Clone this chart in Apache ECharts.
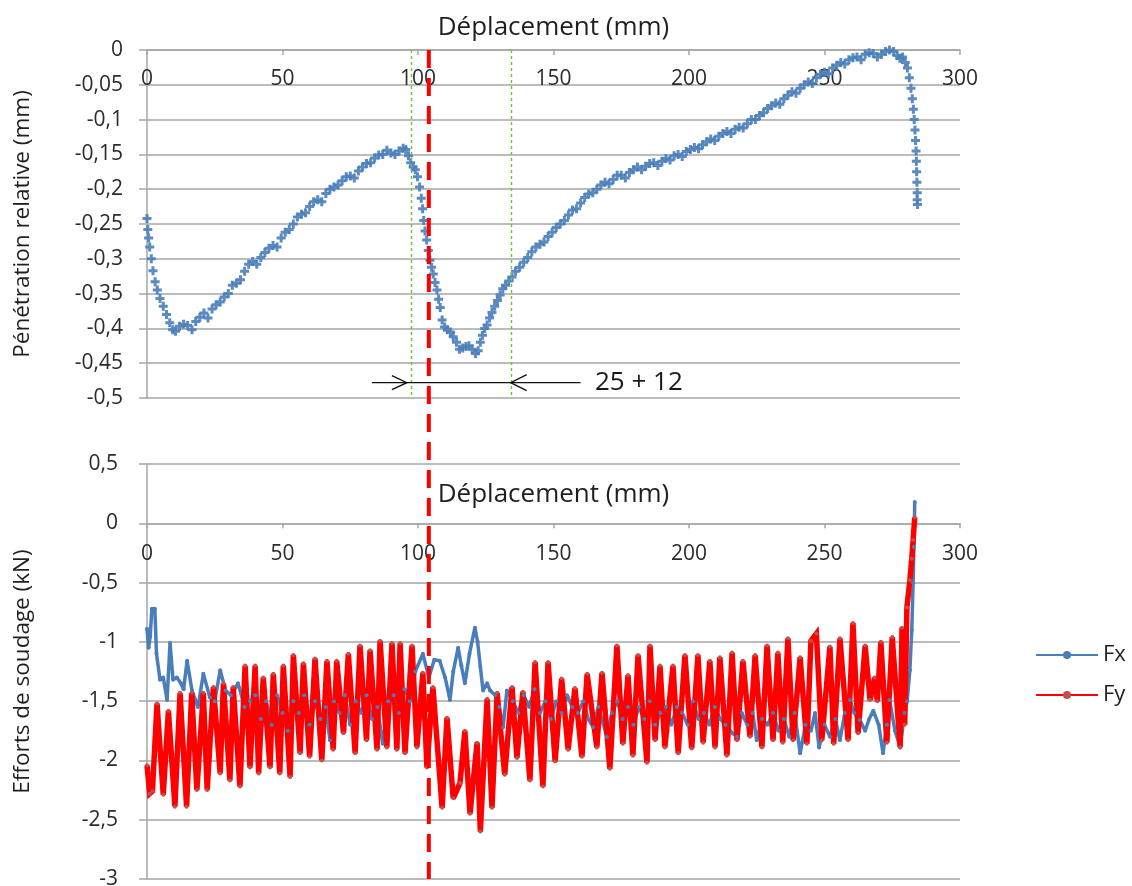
<!DOCTYPE html>
<html>
<head>
<meta charset="utf-8">
<title>Pénétration relative et efforts de soudage</title>
<script src="https://cdn.jsdelivr.net/npm/echarts@6/dist/echarts.min.js"></script>
<style>
  html, body { margin: 0; padding: 0; background: #fff; }
  #main { width: 1132px; height: 886px; }
</style>
</head>
<body>
<div id="main"></div>
<script>
// Relative penetration (mm) against tool displacement (mm)
const penetration = [
  [0,-0.242],[0.3,-0.258],[0.6,-0.27],[1.0,-0.283],[1.6,-0.300],[2.2,-0.317],[3.0,-0.333],[3.8,-0.345],
  [4.8,-0.357],[6.0,-0.368],[7.2,-0.38],[8.4,-0.392],[9.5,-0.402],[10.5,-0.404],[12,-0.397],[13.5,-0.394],
  [15,-0.396],[16.6,-0.402],[18,-0.39],[19.5,-0.384],[21,-0.378],[22.5,-0.385],[24,-0.372],[25.5,-0.366],
  [27,-0.362],[28.5,-0.355],[30,-0.35],[31.5,-0.338],[33,-0.335],[34.5,-0.33],[36,-0.318],[37.5,-0.308],
  [39,-0.304],[40.5,-0.308],[42,-0.298],[43.5,-0.291],[45,-0.285],[46.5,-0.281],[48,-0.283],[49.5,-0.27],
  [51,-0.262],[52.5,-0.258],[54,-0.25],[55.5,-0.24],[57,-0.236],[58.5,-0.234],[60,-0.225],[61.5,-0.218],
  [63,-0.215],[64.5,-0.218],[66,-0.206],[67.5,-0.2],[69,-0.197],[70.5,-0.194],[72,-0.188],[73.5,-0.182],
  [75,-0.181],[76.5,-0.184],[78,-0.174],[79.5,-0.168],[81,-0.163],[82.5,-0.162],[84,-0.155],[85.5,-0.151],
  [87,-0.15],[88.5,-0.144],[90,-0.148],[91.5,-0.15],[93,-0.145],[94.5,-0.141],[95.5,-0.143],[96.5,-0.152],
  [97.3,-0.162],[98.2,-0.168],[99,-0.172],[99.8,-0.182],[100.6,-0.197],[101.2,-0.213],[101.7,-0.228],
  [102.1,-0.245],[102.6,-0.26],[103.2,-0.273],[103.8,-0.288],[104.4,-0.302],[105,-0.312],[105.6,-0.322],
  [106.3,-0.334],[107,-0.345],[107.6,-0.358],[108.2,-0.37],[108.9,-0.388],[109.8,-0.398],[110.8,-0.402],
  [112,-0.405],[113,-0.412],[114.2,-0.42],[115.3,-0.43],[116.5,-0.428],[117.7,-0.426],[118.8,-0.425],
  [120,-0.43],[121.2,-0.436],[122.2,-0.432],[123,-0.42],[123.8,-0.41],[124.6,-0.4],[125.5,-0.395],
  [126.4,-0.385],[127.3,-0.377],[128.3,-0.368],[129.3,-0.36],[130.3,-0.352],[131.3,-0.343],[132.3,-0.338],
  [133.5,-0.332],[134.7,-0.326],[136,-0.318],[137.5,-0.312],[139,-0.305],[140.5,-0.298],[142,-0.29],
  [143.5,-0.283],[145,-0.279],[146.5,-0.276],[148,-0.268],[149.5,-0.262],[151,-0.255],[152.5,-0.25],
  [154,-0.245],[155.5,-0.237],[157,-0.23],[158.5,-0.228],[160,-0.22],[161.5,-0.212],[163,-0.207],
  [164.5,-0.205],[166,-0.2],[167.5,-0.194],[169,-0.19],[170.5,-0.192],[172,-0.186],[173.5,-0.18],
  [175,-0.18],[176.5,-0.184],[178,-0.176],[179.5,-0.172],[181,-0.168],[182.5,-0.172],[184,-0.167],
  [185.5,-0.163],[187,-0.162],[188.5,-0.166],[190,-0.16],[191.5,-0.156],[193,-0.158],[194.5,-0.152],
  [196,-0.15],[197.5,-0.153],[199,-0.146],[200.5,-0.143],[202,-0.14],[203.5,-0.142],[205,-0.136],
  [206.5,-0.132],[208,-0.128],[209.5,-0.13],[211,-0.124],[212.5,-0.12],[214,-0.117],[215.5,-0.12],
  [217,-0.114],[218.5,-0.111],[220,-0.112],[221.5,-0.106],[223,-0.1],[224.5,-0.1],[226,-0.094],
  [227.5,-0.09],[229,-0.084],[230.5,-0.08],[232,-0.076],[233.5,-0.078],[235,-0.07],[236.5,-0.065],
  [238,-0.06],[239.5,-0.062],[241,-0.055],[242.5,-0.05],[244,-0.046],[245.5,-0.048],[247,-0.04],
  [248.5,-0.035],[250,-0.032],[251.5,-0.034],[253,-0.026],[254.5,-0.022],[256,-0.018],[257.5,-0.02],
  [259,-0.014],[260.5,-0.011],[262,-0.01],[263.5,-0.014],[265,-0.006],[266.5,-0.004],[268,-0.005],
  [269.5,-0.01],[271,-0.006],[272.5,-0.002],[274,0],[275.5,-0.002],[276.8,-0.008],[277.8,-0.012],
  [278.8,-0.01],[279.8,-0.018],[280.6,-0.026],[281.3,-0.04],[281.9,-0.055],[282.4,-0.07],[282.8,-0.085],
  [283.1,-0.1],[283.4,-0.115],[283.6,-0.13],[283.8,-0.145],[283.9,-0.16],[284,-0.175],[284.1,-0.19],
  [284.2,-0.205],[284.2,-0.215],[284.3,-0.222]
];

// Welding forces (kN) against displacement (mm)
const effortFx = [
  [0,-0.89],[0.6,-1.05],[1.2,-0.95],[1.8,-0.72],[2.9,-0.72],[3.5,-1.1],[4.8,-1.32],[6,-1.3],[7.4,-1.49],
  [8.5,-1.01],[9.6,-1.32],[11,-1.3],[12.5,-1.35],[13.5,-1.4],[14.8,-1.16],[16.6,-1.41],[18.8,-1.55],
  [20.8,-1.27],[23.2,-1.47],[25,-1.5],[27,-1.24],[29,-1.41],[31,-1.45],[33.6,-1.35],[36,-1.55],[38,-1.5],
  [40,-1.45],[42,-1.65],[44,-1.5],[46,-1.7],[48,-1.45],[50,-1.6],[52,-1.75],[54,-1.5],[56,-1.6],[58,-1.45],
  [60,-1.7],[62,-1.5],[64,-1.65],[66,-1.55],[67.5,-1.83],[69,-1.5],[71,-1.6],[73,-1.45],[75,-1.7],[77,-1.5],
  [79,-1.6],[81,-1.45],[83,-1.65],[85,-1.55],[87,-1.86],[89,-1.5],[91,-1.45],[93,-1.6],[95,-1.4],[97,-1.5],
  [99,-1.25],[101.8,-1.1],[104,-1.3],[106,-1.15],[108,-1.16],[110,-1.3],[111.8,-1.49],[113,-1.25],
  [114.8,-1.05],[116,-1.2],[117.3,-1.35],[119,-1.1],[121,-0.88],[122,-1.0],[123,-1.21],[124,-1.41],
  [125.5,-1.35],[126.6,-1.41],[128.5,-1.45],[130,-1.55],[131.4,-1.72],[132.8,-1.41],[135,-1.5],[137,-1.6],
  [139,-1.45],[141,-1.55],[143,-1.4],[145,-1.6],[147,-1.5],[149,-1.65],[151,-1.5],[153,-1.6],[155,-1.45],
  [157,-1.55],[159,-1.6],[161,-1.5],[162.8,-1.65],[164.6,-1.72],[166.5,-1.55],[169.7,-1.8],[171.5,-1.6],
  [173.5,-1.5],[175.5,-1.65],[177.5,-1.55],[179.5,-1.7],[181.5,-1.55],[183.5,-1.65],[185.5,-1.5],
  [187.5,-1.7],[189.5,-1.6],[191.5,-1.55],[193.5,-1.7],[195.5,-1.55],[197.5,-1.6],[199.5,-1.7],[201.5,-1.5],
  [203.5,-1.65],[205.5,-1.6],[207.5,-1.7],[209.5,-1.55],[211.5,-1.65],[213.5,-1.7],[216,-1.77],[217.7,-1.8],
  [219.5,-1.6],[221.5,-1.7],[223.5,-1.6],[225,-1.83],[227,-1.65],[229,-1.7],[231,-1.6],[233,-1.75],
  [235,-1.65],[237,-1.8],[239,-1.6],[241,-1.94],[243,-1.7],[245,-1.75],[246.5,-1.6],[248,-1.89],[250,-1.7],
  [252,-1.8],[254,-1.65],[255.7,-1.83],[257.5,-1.6],[259.4,-1.49],[261,-1.6],[263,-1.66],[265,-1.75],
  [266.5,-1.65],[268,-1.58],[270,-1.7],[271.6,-1.94],[273,-1.7],[274,-1.49],[276,-1.75],[278,-1.89],
  [279.5,-1.6],[280.5,-1.5],[281.5,-1.24],[282.2,-0.9],[282.7,-0.5],[283,-0.2],[283.3,0.18]
];

const effortFy = [
  [0,-2.04],[1,-2.28],[2,-2.26],[3.7,-1.52],[6,-2.29],[7.9,-1.58],[10.3,-2.39],[12.2,-1.43],[14.6,-2.39],
  [16.5,-1.43],[18.4,-2.25],[20.8,-1.43],[22.2,-2.25],[24.5,-1.38],[27,-2.11],[28.2,-1.35],[30.6,-2.17],
  [31.8,-1.38],[34.3,-2.22],[36.2,-1.2],[38,-2.06],[39.9,-1.2],[41.2,-2.11],[42.9,-1.3],[45.4,-2.06],
  [46.6,-1.27],[49,-2.11],[50.3,-1.2],[52.8,-2.14],[54,-1.11],[56.5,-1.94],[57.7,-1.18],[60,-1.97],
  [62,-1.14],[64.5,-2.0],[66.4,-1.16],[68.7,-1.91],[70,-1.16],[72.5,-1.77],[74.3,-1.1],[76.8,-1.94],
  [78.6,-1.03],[81,-1.83],[82.3,-1.07],[84.9,-1.91],[86,-0.99],[88.5,-1.89],[90.4,-1.01],[92.2,-1.91],
  [93.4,-1.01],[95.2,-1.94],[97.8,-1.03],[99.6,-1.89],[101.8,-1.26],[103.3,-2.06],[105.5,-1.38],
  [108.9,-2.4],[110.7,-1.64],[113,-2.32],[115.5,-2.19],[117.3,-1.75],[119.2,-2.45],[121.8,-1.85],
  [123,-2.6],[125.5,-1.48],[127.3,-2.4],[129.2,-1.43],[132,-2.12],[134.7,-1.38],[136.5,-1.98],
  [138.7,-1.42],[141.3,-2.17],[143.2,-1.17],[146.1,-2.22],[148,-1.17],[150.6,-2.01],[153,-1.31],
  [155.4,-1.91],[157.9,-1.39],[160.5,-1.97],[162.4,-1.27],[166,-1.89],[167.9,-1.26],[170.8,-2.07],
  [173.4,-1.03],[175.6,-1.86],[177.5,-1.28],[179.3,-1.96],[181.2,-1.11],[184.5,-2.02],[185.6,-1.03],
  [187.5,-1.83],[189.3,-1.2],[191.1,-1.89],[194.1,-1.2],[196,-1.94],[198.5,-1.11],[201,-1.9],[203.3,-1.11],
  [205.2,-1.85],[207.7,-1.16],[209.6,-1.89],[211.4,-1.13],[214,-1.96],[215.9,-1.09],[217.7,-1.83],
  [219.9,-1.16],[222.5,-1.8],[224.4,-1.11],[226.9,-1.89],[228.8,-1.03],[231,-1.83],[232.8,-1.09],
  [234.6,-1.85],[236.5,-0.97],[238.4,-1.83],[241,-1.13],[243.5,-1.86],[245,-0.99],[247,-0.93],[249,-1.83],
  [252,-1.04],[253.4,-1.86],[255.7,-0.97],[258.7,-1.83],[260.5,-0.84],[262.4,-1.77],[265,-1.03],
  [266.8,-1.49],[268.5,-1.3],[269.5,-1.5],[270.8,-1.0],[273,-1.85],[275,-0.96],[277.9,-1.89],[278.6,-0.88],
  [279.6,-1.7],[280.4,-0.71],[281.5,-0.48],[282.2,-0.3],[282.7,-0.14],[283.3,0.05]
];

// Reference positions along the displacement axis (mm)
const cutPosition = 104;              // red dashed marker
const zoneBounds = [97.5, 134.3];     // green dotted limits
const arrowLevel = -0.478;            // height of the dimension arrow (mm)
const arrowSpan = [83, 160];          // extent of the dimension line (mm)
const arrowTips = [95.9, 134.2];      // arrowhead tips (mm)
const dimensionText = '25 + 12';
const dimensionTextAt = 165.3;

const FONT = '"Open Sans", "Noto Sans", sans-serif';
const GRID_GREY = '#a6a6a6';
const TEXT = '#1f1f1f';
const PLUS = 'path://M3,0H6V3H9V6H6V9H3V6H0V3H3Z';
const comma = v => (v === 0 ? '0' : String(+v.toFixed(2)).replace('.', ','));

const xAxisBase = {
  type: 'value', min: 0, max: 300, interval: 50,
  nameLocation: 'middle', nameMoveOverlap: false,
  nameTextStyle: { fontSize: 26, color: TEXT, fontFamily: FONT },
  axisLine: { onZero: false, lineStyle: { color: GRID_GREY, width: 1.5 } },
  axisTick: { length: 5, lineStyle: { color: GRID_GREY, width: 1.5 } },
  axisLabel: { fontSize: 21, color: '#2b2b2b', fontFamily: FONT },
  splitLine: { show: false }
};
const yAxisBase = {
  type: 'value', nameLocation: 'middle', nameRotate: 90, nameMoveOverlap: false,
  nameTextStyle: { fontSize: 22.5, color: TEXT, fontFamily: FONT },
  axisLine: { show: true, onZero: false, lineStyle: { color: GRID_GREY, width: 1.5 } },
  axisTick: { show: true, length: 8, lineStyle: { color: GRID_GREY, width: 1.5 } },
  axisLabel: { fontSize: 21, color: '#2b2b2b', fontFamily: FONT, formatter: comma },
  splitLine: { show: true, lineStyle: { color: GRID_GREY, width: 1.5 } }
};

const option = {
  animation: false,
  backgroundColor: '#ffffff',
  textStyle: { fontFamily: FONT },
  grid: [
    { left: 147, top: 50, width: 813, height: 348, outerBoundsMode: 'none' },
    { left: 147, top: 464, width: 813, height: 415, outerBoundsMode: 'none' }
  ],
  xAxis: [
    Object.assign({}, xAxisBase, {
      gridIndex: 0, position: 'top', name: 'Déplacement (mm)', nameGap: 9,
      axisTick: Object.assign({}, xAxisBase.axisTick, { inside: true }),
      axisLabel: Object.assign({}, xAxisBase.axisLabel, { inside: true, margin: 19 })
    }),
    Object.assign({}, xAxisBase, {
      gridIndex: 1, position: 'bottom', name: 'Déplacement (mm)', nameGap: -42,
      axisLabel: Object.assign({}, xAxisBase.axisLabel, { margin: 20 })
    })
  ],
  yAxis: [
    Object.assign({}, yAxisBase, {
      gridIndex: 0, min: -0.5, max: 0, interval: 0.05,
      name: 'Pénétration relative (mm)', nameGap: 113,
      axisLabel: Object.assign({}, yAxisBase.axisLabel, { margin: 24 })
    }),
    Object.assign({}, yAxisBase, {
      gridIndex: 1, min: -3, max: 0.5, interval: 0.5,
      name: 'Efforts de soudage (kN)', nameGap: 113,
      axisLabel: Object.assign({}, yAxisBase.axisLabel, { margin: 29 })
    })
  ],
  legend: {
    orient: 'vertical', left: 1030, top: 639, itemWidth: 62, itemHeight: 10, itemGap: 18,
    textStyle: { fontSize: 22, color: TEXT, fontFamily: FONT },
    data: ['Fx', 'Fy']
  },
  series: [
    {
      name: 'Pénétration', type: 'scatter', xAxisIndex: 0, yAxisIndex: 0,
      data: penetration, symbol: PLUS, symbolSize: 9,
      itemStyle: { color: '#4a7ebb', opacity: 0.9 }
    },
    {
      name: 'Fx', type: 'line', xAxisIndex: 1, yAxisIndex: 1, data: effortFx,
      symbol: 'circle', symbolSize: 4, showAllSymbol: true,
      lineStyle: { color: '#4a7ebb', width: 3.5 },
      itemStyle: { color: '#4a7ebb' }
    },
    {
      name: 'Fy', type: 'line', xAxisIndex: 1, yAxisIndex: 1, data: effortFy,
      symbol: 'circle', symbolSize: 4, showAllSymbol: true,
      lineStyle: { color: '#ff0000', width: 5.5, join: 'miter', miterLimit: 3 },
      itemStyle: { color: '#c0504d' }
    }
  ]
};

const chart = echarts.init(document.getElementById('main'), null, { renderer: 'canvas' });
chart.setOption(option);

const P = (g, x, y) => chart.convertToPixel({ gridIndex: g }, [x, y]);

// Lower displacement axis runs along the zero force level
const zeroY = P(1, 0, 0)[1];
const floorY = P(1, 0, -3)[1];
chart.setOption({ xAxis: [{}, { offset: zeroY - floorY }] });

// Annotations placed through the axis scales
const [cutX, cutTop] = P(0, cutPosition, 0);
const cutBottom = P(1, cutPosition, -3)[1];
const [dimL, dimY] = P(0, arrowSpan[0], arrowLevel);
const dimR = P(0, arrowSpan[1], arrowLevel)[0];
const tipR = P(0, arrowTips[0], arrowLevel)[0];
const tipL = P(0, arrowTips[1], arrowLevel)[0];
const txtX = P(0, dimensionTextAt, arrowLevel)[0];
const zoneTop = P(0, 0, 0)[1];
const zoneBottom = P(0, 0, -0.5)[1];

const ink = { stroke: '#111', lineWidth: 1.3, fill: null };
const zoneStyle = { stroke: '#6fc22e', lineWidth: 1.4, lineDash: [3, 3] };
chart.setOption({
  graphic: zoneBounds.map(v => {
    const zx = Math.round(P(0, v, 0)[0]) + 0.5;
    return { type: 'line', z: 15, shape: { x1: zx, y1: zoneTop, x2: zx, y2: zoneBottom }, style: zoneStyle };
  }).concat([
    { type: 'line', z: 20, shape: { x1: dimL, y1: dimY, x2: dimR, y2: dimY }, style: ink },
    { type: 'polyline', z: 20, shape: { points: [[tipR - 15, dimY - 7], [tipR, dimY], [tipR - 15, dimY + 7]] }, style: ink },
    { type: 'polyline', z: 20, shape: { points: [[tipL + 16, dimY - 8], [tipL, dimY], [tipL + 16, dimY + 8]] }, style: ink },
    { type: 'text', z: 20, x: txtX, y: dimY,
      style: { text: dimensionText, fill: '#1a1a1a', font: '26px ' + FONT, verticalAlign: 'middle', align: 'left' } },
    { type: 'line', z: 30, shape: { x1: cutX, y1: cutTop, x2: cutX, y2: cutBottom },
      style: { stroke: '#ff0000', lineWidth: 4, lineDash: [18, 10] } }
  ])
});
</script>
</body>
</html>
